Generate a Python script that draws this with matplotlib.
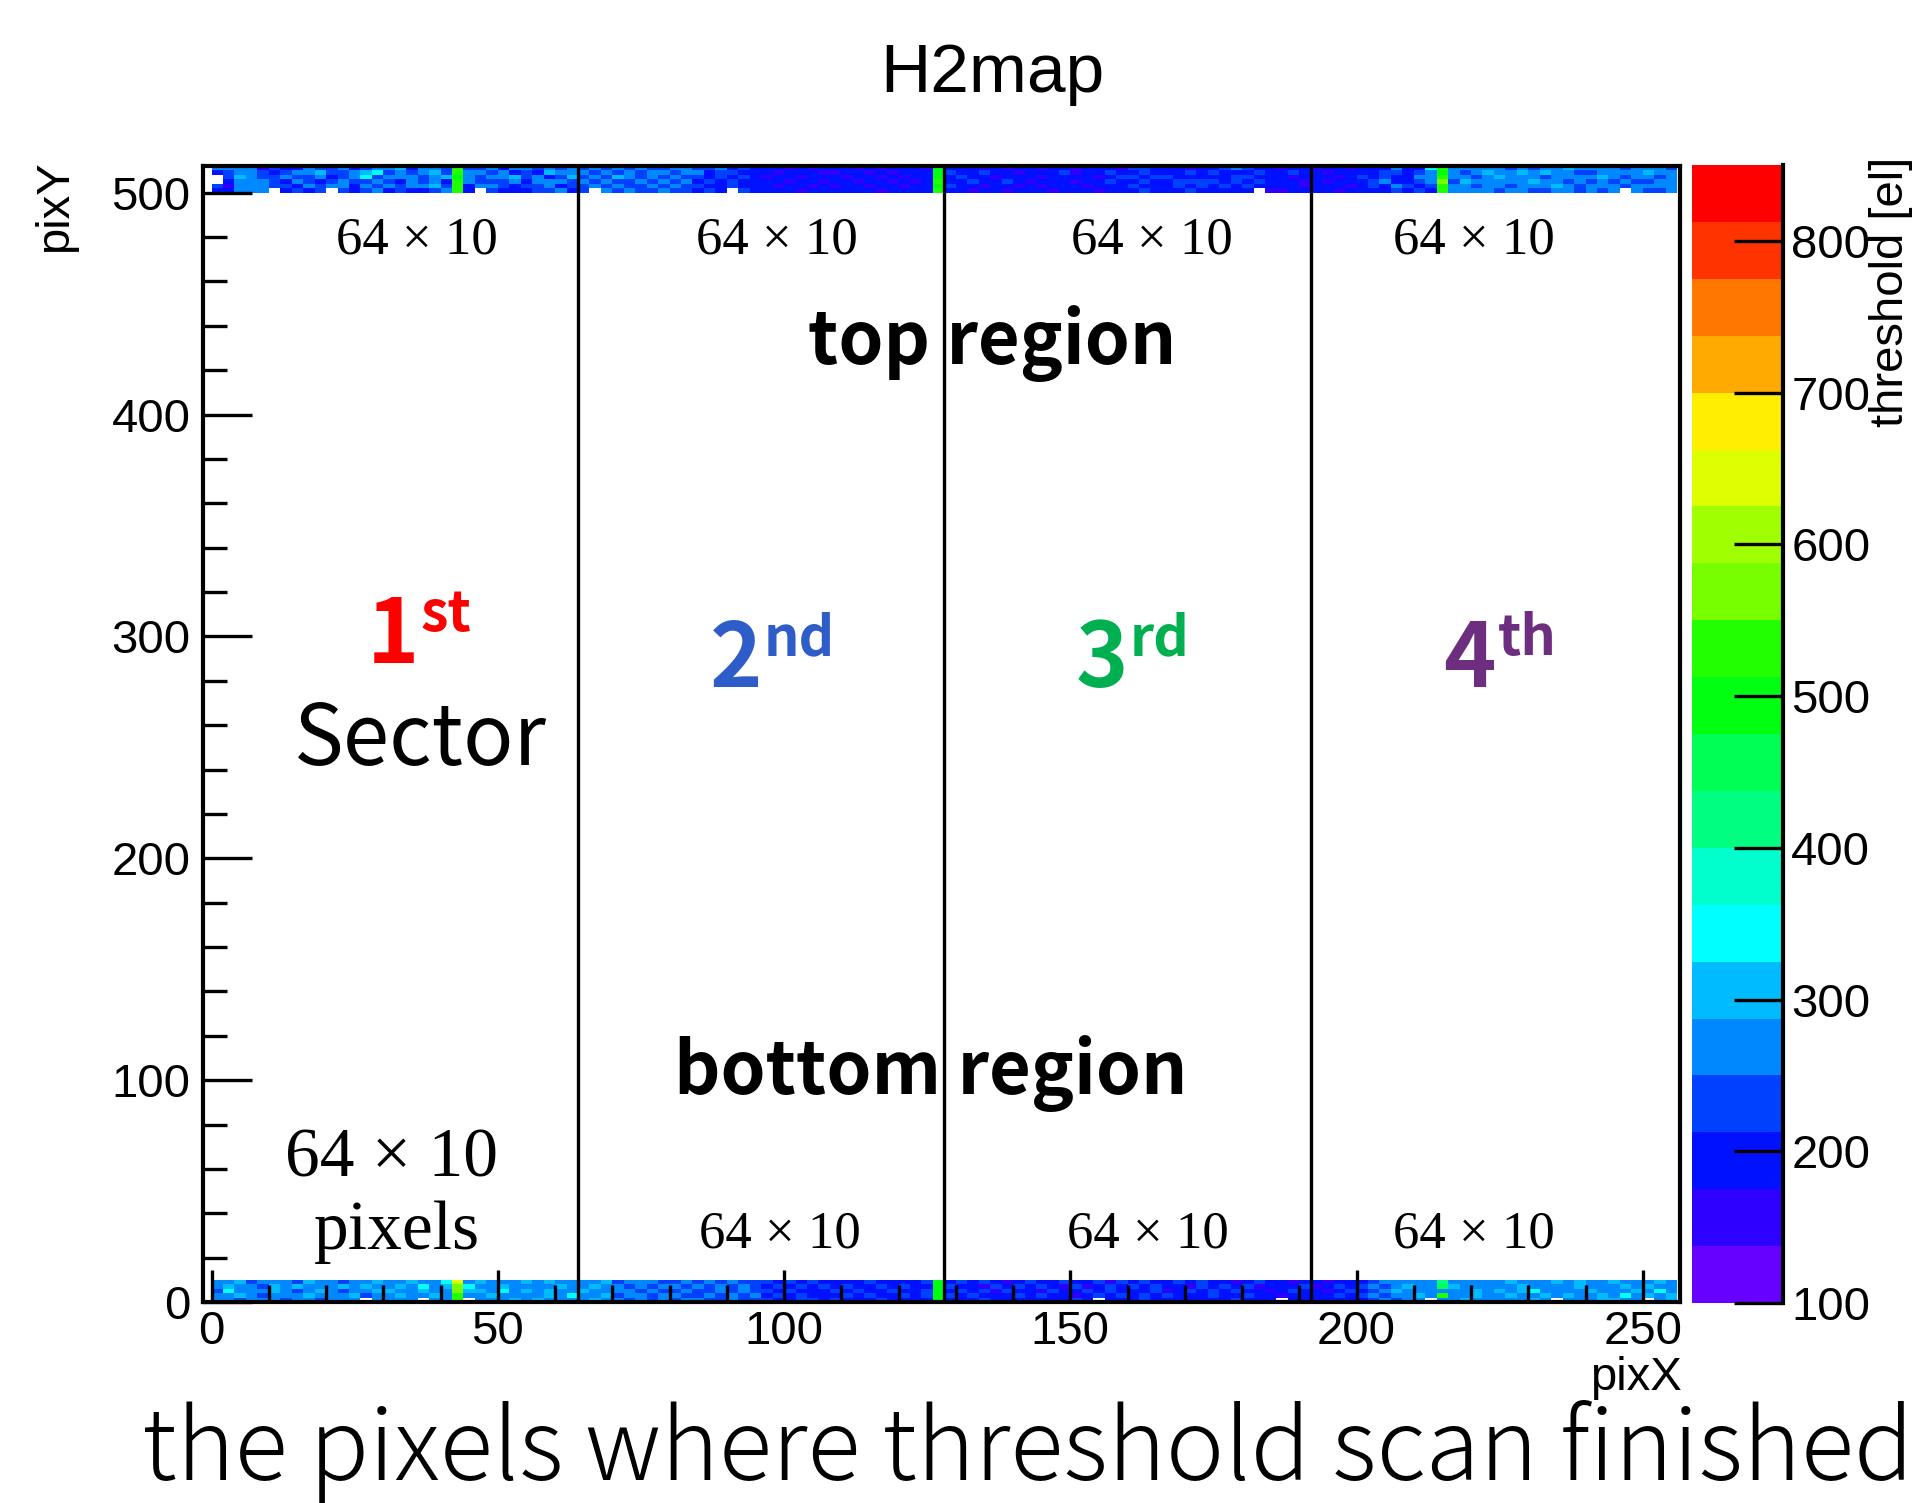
import numpy as np
import matplotlib
matplotlib.use("Agg")
import matplotlib.pyplot as plt
from matplotlib.colors import ListedColormap, BoundaryNorm

W, H, DPI = 1926, 1503, 100

# ROOT-style 20-step palette and its contour boundaries (threshold in electrons)
palette = ["#6600FF", "#2E00FF", "#0011FF", "#0040FF", "#0088FF",
           "#00BBFF", "#00FFFF", "#00FFCC", "#00FF80", "#00FF55",
           "#00FF11", "#22FF00", "#77FF00", "#A0FF00", "#DDFF00",
           "#FFEE00", "#FFAA00", "#FF7700", "#FF3300", "#FF0000"]
z_bounds = [100.0, 137.5, 175.0, 212.5, 250.0, 287.5, 325.0, 362.5, 400.0,
            437.5, 475.0, 512.5, 550.0, 587.5, 625.0, 662.5, 700.0, 737.5,
            775.0, 812.5, 850.0]
z_ticks = [100, 200, 300, 400, 500, 600, 700, 800]
x_ticks = [0, 50, 100, 150, 200, 250]
y_ticks = [0, 100, 200, 300, 400, 500]
sector_edges = [64, 128, 192]

# Threshold map of the scanned rows. One character per 2x2 block of pixels,
# giving the palette step of the threshold ('.' = no result).
# Top region: rows 511..500, listed from the top down.
top_rows = [
    "44441322" "43342344" "52443b33" "42443434"
    "34343433" "44334232" "22121222" "1212221a"
    "22212122" "12212221" "33222122" "34322122"
    "12212224" "226b4444" "43434454" "44434443",
    "23443234" "45334563" "43453b44" "34232544"
    "43434344" "34423322" "21222112" "2121222a"
    "32232212" "22312232" "23222323" "22232232"
    "21222233" "234a4345" "44545443" "34444544",
    ".3543343" "34234634" "44345a43" "44534235"
    "34354343" "43323232" "12212221" "2212122a"
    "23221222" "12222123" "32332222" "23322212"
    "22123232" "244b4434" "54443444" "45434434",
    ".2444324" "32343343" "24342b43" "33424443"
    "43433434" "34232322" "22122122" "1221212b"
    "22322321" "22212232" "23223333" "23232221"
    "21222342" "234c3544" "44454434" "34343344",
    "31444332" "43442434" "34453b24" "43233423"
    "34343343" "43322322" "21221212" "2122122a"
    "32212212" "12221222" "32223232" "32322221"
    "22212324" "323b4434" "43444543" "44434444",
    "22444.23" "23.32342" "32234b2." "32223342"
    "3.434334" "33232.32" "22212222" "2212222b"
    "22122122" "21222122" "23222322" "222.1122"
    "22122223" "232b4444" "34433443" "434.4334",
]
# Bottom region: rows 9..0, listed from the top down.
bottom_rows = [
    "44534443" "54434454" "45446e45" "44454544"
    "44534443" "34343433" "32323222" "2322223a"
    "23232123" "22322313" "23223232" "21232212"
    "21222344" "44484444" "45444545" "44544454",
    "45443545" "44454544" "54645c64" "45444454"
    "45443434" "43434343" "23232323" "2232322a"
    "32213232" "32131232" "32322132" "32312223"
    "12323434" "54495444" "44544445" "44454544",
    "36444543" "45434455" "44544c55" "46454544"
    "54444343" "34334343" "32322232" "3223223a"
    "23231322" "13223232" "22312323" "23221232"
    "21232345" "44444454" "54564444" "54445464",
    "44543444" "54445344" "54454b44" "54444546"
    "44534434" "43343434" "23232223" "2322323a"
    "32322232" "32212323" "23232223" "22322122"
    "22323434" "454b4454" "45445454" "45464545",
    "44344434" "43444.44" "44.44b.4" "44545444"
    "45443434" "34433433" "32233232" "2232222a"
    "22232222" "22232.22" "23222222" "23222.22"
    "22222343" "44.44544" "44454.44" "45544.45",
]

LEVEL_CHARS = "0123456789abcdefghij"
z_mid = [(a + b) / 2 for a, b in zip(z_bounds[:-1], z_bounds[1:])]


def decode(rows):
    """Turn the coded rows (top first) into a pixel grid (bottom row first)."""
    grid = []
    for s in reversed(rows):
        vals = [np.nan if c == "." else z_mid[LEVEL_CHARS.index(c)] for c in s]
        line = np.repeat(vals, 2)
        grid.append(line)
        grid.append(line)
    return np.ma.masked_invalid(np.array(grid))


top_grid = decode(top_rows)
bottom_grid = decode(bottom_rows)

SANS = ["Liberation Sans", "DejaVu Sans"]
JP = ["Noto Sans CJK JP", "DejaVu Sans"]
SERIF = ["Liberation Serif", "DejaVu Serif"]


def fx(x):
    return x / W


def fy(y):
    return 1 - y / H


cmap = ListedColormap(palette)
norm = BoundaryNorm(z_bounds, cmap.N)

fig = plt.figure(figsize=(W / DPI, H / DPI), dpi=DPI)
ax = fig.add_axes([fx(203), fy(1302), (1680 - 203) / W, (1302 - 166) / H])

x_edges = np.arange(top_grid.shape[1] + 1)
ax.pcolormesh(x_edges, 512 - top_grid.shape[0] + np.arange(top_grid.shape[0] + 1),
              top_grid, cmap=cmap, norm=norm, shading="flat",
              antialiased=False, linewidth=0)
ax.pcolormesh(x_edges, np.arange(bottom_grid.shape[0] + 1), bottom_grid,
              cmap=cmap, norm=norm, shading="flat", antialiased=False, linewidth=0)

ax.vlines(sector_edges, 0, 512, colors="black", linewidth=2.4, zorder=3)

ax.set_xlim(-1.5, 256.5)
ax.set_ylim(0, 512)
ax.set_xticks(x_ticks)
ax.set_xticks(np.arange(0, 257, 10), minor=True)
ax.set_yticks(y_ticks)
ax.set_yticks(np.arange(0, 513, 20), minor=True)
ax.tick_params(axis="x", which="major", direction="in", length=23, width=2.4,
               pad=6, labelsize=34, top=False)
ax.tick_params(axis="x", which="minor", direction="in", length=12, width=2.4, top=False)
ax.tick_params(axis="y", which="major", direction="in", length=35, width=2.4,
               pad=9, labelsize=34, right=False)
ax.tick_params(axis="y", which="minor", direction="in", length=17, width=2.4, right=False)
for lab in ax.get_xticklabels() + ax.get_yticklabels():
    lab.set_family(SANS)
for sp in ax.spines.values():
    sp.set_linewidth(3)

# colour scale
cax = fig.add_axes([fx(1692), fy(1303), 91 / W, (1303 - 165) / H])
cax.pcolormesh([0, 1], z_bounds, np.array(z_mid)[:, None], cmap=cmap, norm=norm,
               shading="flat", antialiased=False, linewidth=0)
cax.set_xlim(0, 1)
cax.set_ylim(z_bounds[0], z_bounds[-1])
cax.set_xticks([])
cax.yaxis.tick_right()
cax.set_yticks(z_ticks)
cax.tick_params(axis="y", direction="in", length=35, width=2.4, pad=6,
                labelsize=34, left=False, right=True)
for lab in cax.get_yticklabels():
    lab.set_family(SANS)
for side in ("left", "top", "bottom"):
    cax.spines[side].set_visible(False)
cax.spines["right"].set_linewidth(3)

# titles and axis names
fig.text(fx(992), fy(74), "H2map", ha="center", va="center", fontsize=50, family=SANS)
fig.text(fx(1682), fy(1378), "pixX", ha="right", va="center", fontsize=34, family=SANS)
fig.text(fx(55), fy(160), "pixY", ha="center", va="top", rotation=90,
         fontsize=34, family=SANS)
fig.text(fx(1891), fy(157), "threshold [el]", ha="center", va="top", rotation=90,
         fontsize=34, family=SANS)

# sector block sizes
for x, y in [(417, 241), (777, 241), (1152, 241), (1474, 241),
             (780, 1234), (1148, 1234), (1474, 1234)]:
    fig.text(fx(x), fy(y), "64 × 10", ha="center", va="center", fontsize=38, family=SERIF)
fig.text(fx(391), fy(1160), "64 × 10", ha="center", va="center", fontsize=50, family=SERIF)
fig.text(fx(397), fy(1232), "pixels", ha="center", va="center", fontsize=50, family=SERIF)

# region names
fig.text(fx(992), fy(344), "top region", ha="center", va="center", fontsize=52,
         fontweight="bold", family=JP)
fig.text(fx(931), fy(1073), "bottom region", ha="center", va="center", fontsize=52,
         fontweight="bold", family=JP)

# sector ordinals
ordinals = [("1", "st", "#FF0000", 397, 637),
            ("2", "nd", "#2E5CC8", 740, 661),
            ("3", "rd", "#00B050", 1106, 661),
            ("4", "th", "#6E2E80", 1474, 661)]
for num, suf, col, x, y in ordinals:
    fig.text(fx(x + 22), fy(y), num, ha="right", va="center", fontsize=64,
             fontweight="bold", color=col, family=JP)
    fig.text(fx(x + 24), fy(y - 22), suf, ha="left", va="center", fontsize=40,
             fontweight="bold", color=col, family=JP)
fig.text(fx(420), fy(741), "Sector", ha="center", va="center", fontsize=60, family=JP)

fig.text(fx(1028), fy(1480), "the pixels where threshold scan finished",
         ha="center", va="baseline", fontsize=71, fontweight="light", family=JP)

fig.savefig("out.png", dpi=DPI)
